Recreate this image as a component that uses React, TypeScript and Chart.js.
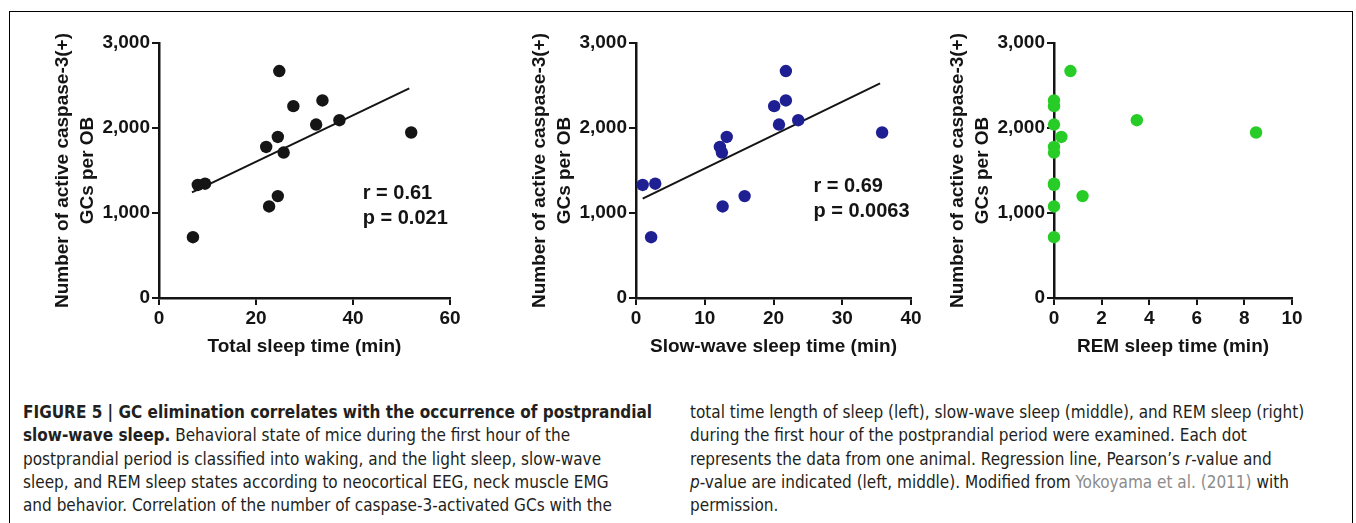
import React, { useEffect, useRef } from "react";
import { Chart, registerables } from "chart.js";

Chart.register(...registerables);

// ---- Data (one value per animal) ----
const caspaseCounts = [715, 1330, 1345, 1777, 1077, 1895, 1199, 2670, 1711, 2257, 2041, 2324, 2092, 1947];
const totalSleepMin = [7.0, 8.0, 9.5, 22.1, 22.7, 24.5, 24.5, 24.8, 25.7, 27.7, 32.4, 33.7, 37.2, 52.0];
const slowWaveSleepMin = [2.2, 0.97, 2.8, 12.2, 12.6, 13.2, 15.8, 21.8, 12.5, 20.1, 20.8, 21.8, 23.6, 35.8];
const remSleepMin = [0, 0, 0, 0, 0, 0.31, 1.2, 0.69, 0, 0, 0, 0, 3.48, 8.49];

// regression line end points
const totalRegX = [6.8, 51.6];
const totalRegY = [1243, 2466];
const swsRegX = [0.97, 35.5];
const swsRegY = [1168, 2526];

const yTicksMax = 3000;
const yStep = 1000;

const statsTotal = ["r = 0.61", "p = 0.021"];
const statsSws = ["r = 0.69", "p = 0.0063"];

const yTitle = ["Number of active caspase-3(+)", "GCs per OB"];

const FONT = '"Liberation Sans", Arial, Helvetica, sans-serif';
const INK = "#141414";

const statsPlugin = {
  id: "statsText",
  afterDatasetsDraw(chart: any, _args: any, opts: any) {
    if (!opts || !opts.lines) return;
    const { ctx } = chart;
    const xs = chart.scales.x;
    const ys = chart.scales.y;
    ctx.save();
    ctx.font = `bold 20px ${FONT}`;
    ctx.fillStyle = INK;
    ctx.textBaseline = "middle";
    ctx.textAlign = "left";
    opts.lines.forEach((t: string, i: number) => {
      ctx.fillText(t, xs.getPixelForValue(opts.x), ys.getPixelForValue(opts.y[i]));
    });
    ctx.restore();
  },
};

type PanelProps = {
  left: number;
  plotWidth: number;
  xs: number[];
  xMax: number;
  xStep: number;
  xTitle: string;
  color: string;
  regX?: number[];
  regY?: number[];
  stats?: { lines: string[]; x: number; y: number[] };
};

const AXIS_ROOM = 140;
const RIGHT_ROOM = 30;
const CANVAS_H = 370;
const TOP_PAD = 43;
const X_AXIS_H = 72;

function Panel(p: PanelProps) {
  const ref = useRef<HTMLCanvasElement | null>(null);
  const width = AXIS_ROOM + p.plotWidth + RIGHT_ROOM;
  useEffect(() => {
    if (!ref.current) return;
    const tickFont = { family: FONT, size: 19, weight: "bold" as const, lineHeight: 1.2 };
    const datasets: any[] = [];
    if (p.regX && p.regY) {
      datasets.push({
        type: "line",
        data: p.regX.map((x, i) => ({ x, y: p.regY![i] })),
        borderColor: INK,
        borderWidth: 2,
        pointRadius: 0,
        fill: false,
        clip: false,
        order: 2,
      });
    }
    datasets.push({
      type: "scatter",
      data: p.xs.map((x, i) => ({ x, y: caspaseCounts[i] })),
      backgroundColor: p.color,
      borderColor: p.color,
      borderWidth: 0,
      pointRadius: 6.2,
      pointHoverRadius: 6.2,
      clip: false,
      order: 1,
    });
    const chart = new Chart(ref.current, {
      type: "scatter",
      data: { datasets },
      plugins: [statsPlugin],
      options: {
        responsive: false,
        animation: false,
        events: [],
        layout: { padding: { left: 0, top: TOP_PAD, right: RIGHT_ROOM, bottom: 0 } },
        plugins: {
          legend: { display: false },
          tooltip: { enabled: false },
          statsText: p.stats ? p.stats : {},
        } as any,
        scales: {
          x: {
            type: "linear",
            min: 0,
            max: p.xMax,
            ticks: { stepSize: p.xStep, color: INK, font: tickFont, padding: 2 },
            grid: { drawOnChartArea: false, drawTicks: true, tickLength: 7, color: INK, lineWidth: 2 },
            border: { color: INK, width: 2.5 },
            title: {
              display: true,
              text: p.xTitle,
              color: INK,
              font: { family: FONT, size: 19, weight: "bold", lineHeight: 1.2 },
              padding: { top: 0, bottom: 11.6 },
            },
            afterFit: (s: any) => {
              s.height = X_AXIS_H;
            },
          },
          y: {
            type: "linear",
            min: 0,
            max: yTicksMax,
            ticks: {
              stepSize: yStep,
              color: INK,
              font: tickFont,
              padding: 2,
              callback: (v: any) => Number(v).toLocaleString("en-US"),
            },
            grid: { drawOnChartArea: false, drawTicks: true, tickLength: 7, color: INK, lineWidth: 2 },
            border: { color: INK, width: 2.5 },
            title: {
              display: true,
              text: yTitle,
              color: INK,
              font: { family: FONT, size: 19, weight: "bold", lineHeight: "25px" as any },
              padding: { top: 31.5, bottom: 0 },
            },
            afterFit: (s: any) => {
              s.width = AXIS_ROOM;
            },
          },
        },
      } as any,
    });
    return () => chart.destroy();
  }, []);
  return (
    <canvas
      ref={ref}
      width={width}
      height={CANVAS_H}
      style={{ position: "absolute", left: p.left, top: 0, width, height: CANVAS_H }}
    />
  );
}

const capFont = '"Liberation Sans Narrow", "DejaVu Sans Condensed", "Liberation Sans", Arial, sans-serif';

const lineStyle: React.CSSProperties = {
  whiteSpace: "nowrap",
  height: 23.3,
  lineHeight: "23.3px",
};

export default function App() {
  return (
    <div
      style={{
        position: "fixed",
        left: 0,
        top: 0,
        width: 1356,
        height: 523,
        background: "#fff",
        overflow: "hidden",
      }}
    >
      <div
        style={{
          position: "absolute",
          left: 9,
          top: 11,
          width: 1344,
          height: 600,
          border: "1px solid #000",
          boxSizing: "border-box",
        }}
      />
      <Panel
        left={159 - AXIS_ROOM}
        plotWidth={291}
        xs={totalSleepMin}
        xMax={60}
        xStep={20}
        xTitle="Total sleep time (min)"
        color="#151515"
        regX={totalRegX}
        regY={totalRegY}
        stats={{ lines: statsTotal, x: 42, y: [1235, 940] }}
      />
      <Panel
        left={636 - AXIS_ROOM}
        plotWidth={275}
        xs={slowWaveSleepMin}
        xMax={40}
        xStep={10}
        xTitle="Slow-wave sleep time (min)"
        color="#1f1f94"
        regX={swsRegX}
        regY={swsRegY}
        stats={{ lines: statsSws, x: 25.8, y: [1311, 1018] }}
      />
      <Panel
        left={1054 - AXIS_ROOM}
        plotWidth={238}
        xs={remSleepMin}
        xMax={10}
        xStep={2}
        xTitle="REM sleep time (min)"
        color="#27cc27"
      />
      <div
        style={{
          position: "absolute",
          left: 23,
          top: 401,
          fontFamily: capFont,
          fontSize: 17,
          color: "#231f20",
        }}
      >
        <div style={lineStyle}>
          <b>FIGURE 5 | GC elimination correlates with the occurrence of postprandial</b>
        </div>
        <div style={lineStyle}>
          <b>slow-wave sleep.</b> Behavioral state of mice during the first hour of the
        </div>
        <div style={lineStyle}>postprandial period is classified into waking, and the light sleep, slow-wave</div>
        <div style={lineStyle}>sleep, and REM sleep states according to neocortical EEG, neck muscle EMG</div>
        <div style={lineStyle}>and behavior. Correlation of the number of caspase-3-activated GCs with the</div>
      </div>
      <div
        style={{
          position: "absolute",
          left: 690,
          top: 401,
          fontFamily: capFont,
          fontSize: 17,
          color: "#231f20",
        }}
      >
        <div style={lineStyle}>total time length of sleep (left), slow-wave sleep (middle), and REM sleep (right)</div>
        <div style={lineStyle}>during the first hour of the postprandial period were examined. Each dot</div>
        <div style={lineStyle}>
          represents the data from one animal. Regression line, Pearson’s <i>r</i>-value and
        </div>
        <div style={lineStyle}>
          <i>p</i>-value are indicated (left, middle). Modified from{" "}
          <span style={{ color: "#8c8c8c" }}>Yokoyama et al. (2011)</span> with
        </div>
        <div style={lineStyle}>permission.</div>
      </div>
    </div>
  );
}
